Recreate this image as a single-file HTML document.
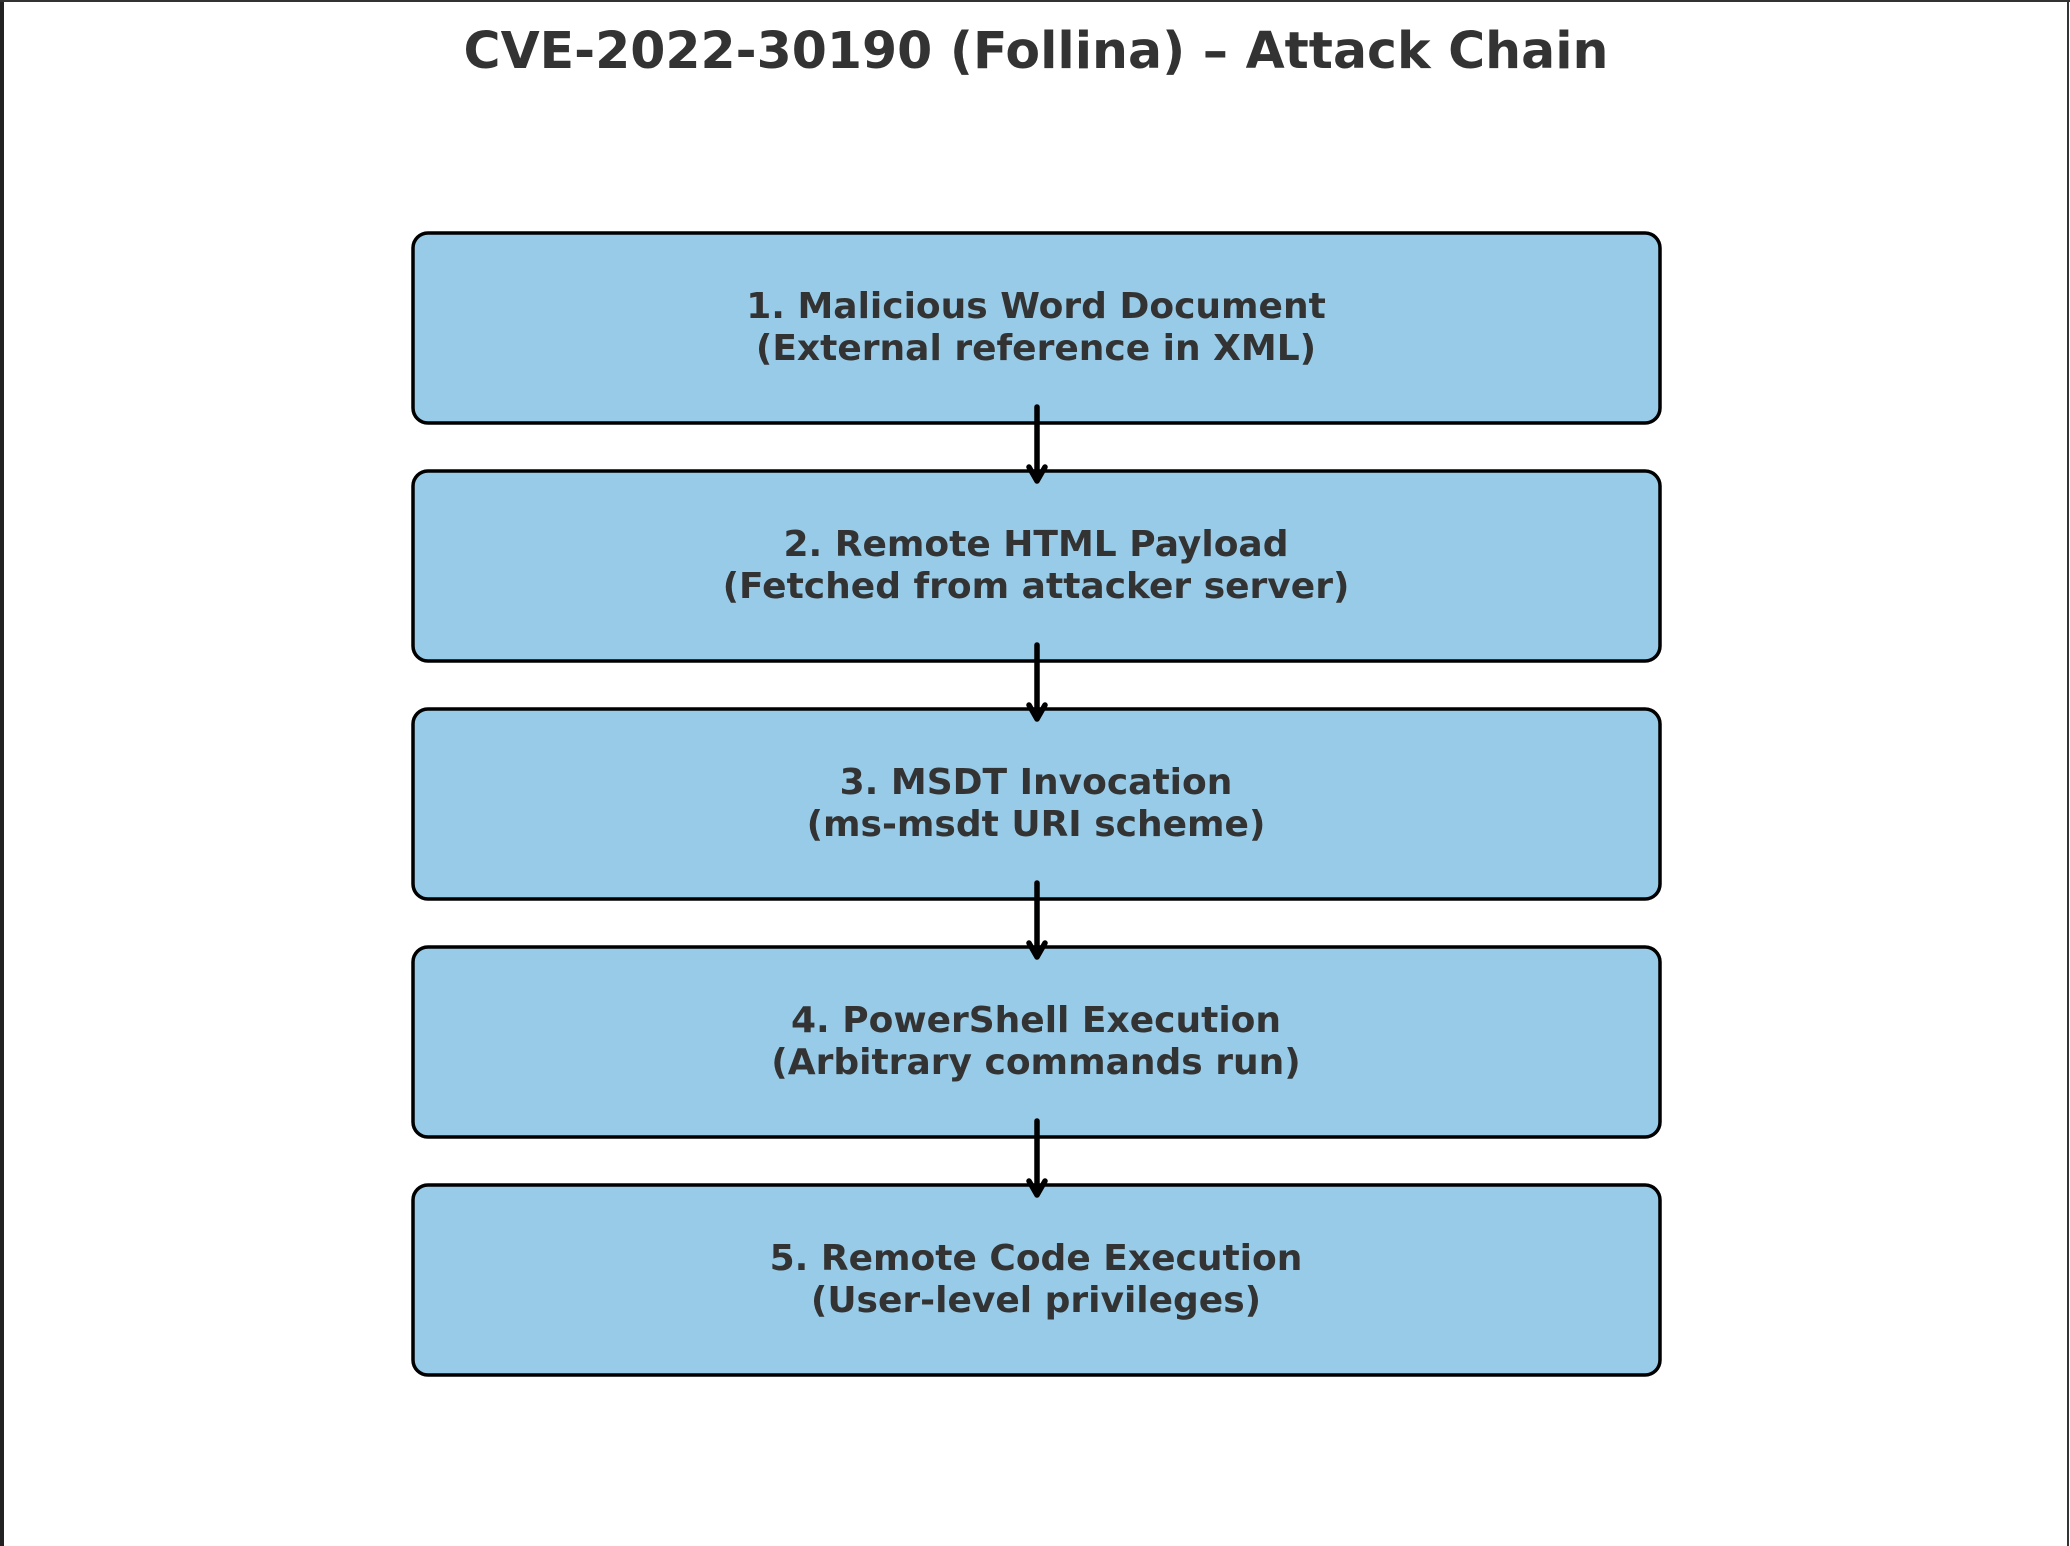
<!DOCTYPE html>
<html><head><meta charset="utf-8"><style>
html,body{margin:0;padding:0;background:#fff;}
svg{display:block;}
text{font-family:"DejaVu Sans","Liberation Sans",sans-serif;font-weight:bold;fill:#333;}
</style></head><body>
<svg width="2070" height="1546" viewBox="0 0 2070 1546" xmlns="http://www.w3.org/2000/svg">
<rect x="0" y="0" width="2070" height="1546" fill="#fff"/>
<rect x="0" y="0" width="4" height="1546" fill="#222"/>
<rect x="0" y="0" width="2070" height="2" fill="#333"/>
<rect x="2067" y="0" width="2" height="1546" fill="#333"/>
<text x="1036" y="68" font-size="50.5" text-anchor="middle">CVE-2022-30190 (Follina) – Attack Chain</text>
<g fill="#97cbe8" stroke="#000" stroke-width="3.5">
<rect x="413" y="233" width="1247" height="190" rx="15"/>
<rect x="413" y="471" width="1247" height="190" rx="15"/>
<rect x="413" y="709" width="1247" height="190" rx="15"/>
<rect x="413" y="947" width="1247" height="190" rx="15"/>
<rect x="413" y="1185" width="1247" height="190" rx="15"/>
</g>
<g font-size="36" text-anchor="middle">
<text x="1036" y="318">1. Malicious Word Document</text>
<text x="1036" y="360">(External reference in XML)</text>
<text x="1036" y="556">2. Remote HTML Payload</text>
<text x="1036" y="598">(Fetched from attacker server)</text>
<text x="1036" y="794">3. MSDT Invocation</text>
<text x="1036" y="836">(ms-msdt URI scheme)</text>
<text x="1036" y="1032">4. PowerShell Execution</text>
<text x="1036" y="1074">(Arbitrary commands run)</text>
<text x="1036" y="1270">5. Remote Code Execution</text>
<text x="1036" y="1312">(User-level privileges)</text>
</g>
<g stroke="#000" stroke-width="5.5" stroke-linecap="round" stroke-linejoin="round" fill="none">
<path d="M1037 407 V478 M1029 467 L1037 481 L1045 467"/>
<path d="M1037 645 V716 M1029 705 L1037 719 L1045 705"/>
<path d="M1037 883 V954 M1029 943 L1037 957 L1045 943"/>
<path d="M1037 1121 V1192 M1029 1181 L1037 1195 L1045 1181"/>
</g>
</svg>
</body></html>
